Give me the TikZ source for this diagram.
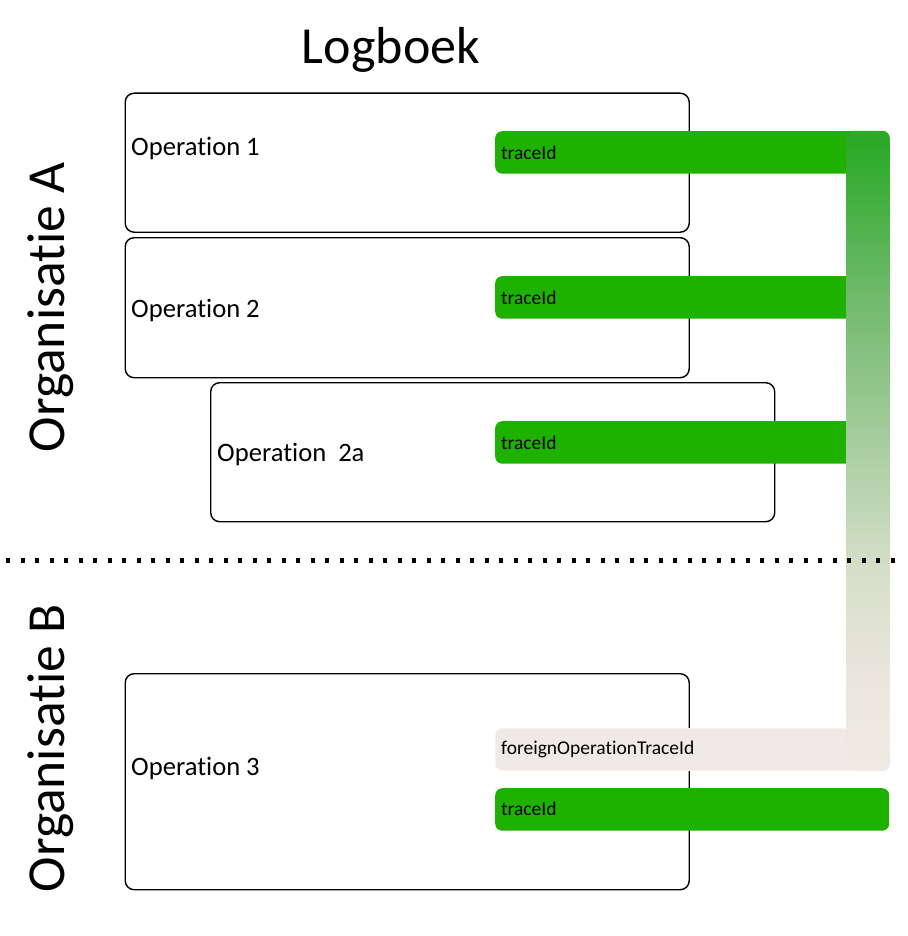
\documentclass[tikz,border=0pt]{standalone}
\usepackage{fontspec}
\setmainfont{Carlito}[Ligatures={NoCommon,NoContextual}]
\definecolor{barg}{RGB}{31,177,0}
\definecolor{beigec}{RGB}{241,233,227}
\definecolor{sc1}{RGB}{237,231,223}
\definecolor{sc2}{RGB}{213,222,200}
\definecolor{sc3}{RGB}{112,186,108}
\definecolor{sc4}{RGB}{42,170,40}
\pgfdeclareverticalshading{vbarshade}{100bp}{color(0bp)=(beigec); color(25bp)=(beigec); color(31bp)=(sc1); color(41bp)=(sc2); color(62bp)=(sc3); color(74bp)=(sc4); color(100bp)=(sc4)}
\tikzset{
  opbox/.style={draw=black, line width=1.4pt, rounded corners=9pt, fill=white, anchor=north west, inner sep=0pt},
  gbar/.style={fill=barg, rounded corners=7pt, anchor=north west, inner sep=0pt, minimum height=42.5pt},
  fbar/.style={fill=beigec, draw=beigec!60!white, line width=0.8pt, rounded corners=7pt, anchor=north west, inner sep=0pt, minimum height=42pt},
  optext/.style={anchor=west, font=\fontsize{26.6}{30}\selectfont, inner sep=0pt},
  bartext/.style={anchor=west, font=\fontsize{19.5}{22}\selectfont, inner sep=0pt},
  bigtext/.style={font=\fontsize{52}{60}\selectfont, inner sep=0pt},
  orgtext/.style={font=\fontsize{53.5}{60}\selectfont, inner sep=0pt, rotate=90},
}
\begin{document}
\begin{tikzpicture}[x=1pt, y=-1pt]
\useasboundingbox (0,0) rectangle (907,936);
% boxes
\node[opbox, minimum width=564pt, minimum height=139pt] (b1) at (124.5,92.5) {};
\node[opbox, minimum width=564pt, minimum height=140pt] (b2) at (124.5,237) {};
\node[opbox, minimum width=564pt, minimum height=139pt] (b2a) at (210,382) {};
\node[opbox, minimum width=564pt, minimum height=216pt] (b3) at (124.5,673) {};
% box labels
\node[optext] (l1) at (131,148) {Operation 1};
\node[optext] (l2) at (131,310) {Operation 2};
\node[optext] (l2a) at (217,454) {Operation\ \ 2a};
\node[optext] (l3) at (131,768) {Operation 3};
% bars
\node[gbar, minimum width=394pt] (t1) at (495,131) {};
\node[gbar, minimum width=358pt] (t2) at (495,276) {};
\node[gbar, minimum width=358pt] (t3) at (495,421) {};
\node[fbar, minimum width=394pt] (fo) at (495,728) {};
\node[gbar, minimum width=394pt] (t4) at (495,788) {};
% vertical link bar
\path[shading=vbarshade, rounded corners=7pt] ([xshift=-43pt]t1.north east) rectangle (fo.south east);
% bar labels
\node[bartext] (tt1) at (501,153) {traceId};
\node[bartext] (tt2) at (501,298) {traceId};
\node[bartext] (tt3) at (501,443) {traceId};
\node[bartext] (tfo) at (501,749) {foreignOperationTraceId};
\node[bartext] (tt4) at (501,809) {traceId};
% titles
\node[bigtext] (title) at (391,50) {Logboek};
\node[orgtext] (orgA) at (51,307.5) {Organisatie A};
\node[orgtext] (orgB) at (51,748.5) {Organisatie B};
% divider
\coordinate (dl) at (6,560);
\coordinate (dr) at (902,560);
\draw[line width=5pt, dash pattern=on 4pt off 10.5pt] (dl) -- (dr);
\end{tikzpicture}
\end{document}
